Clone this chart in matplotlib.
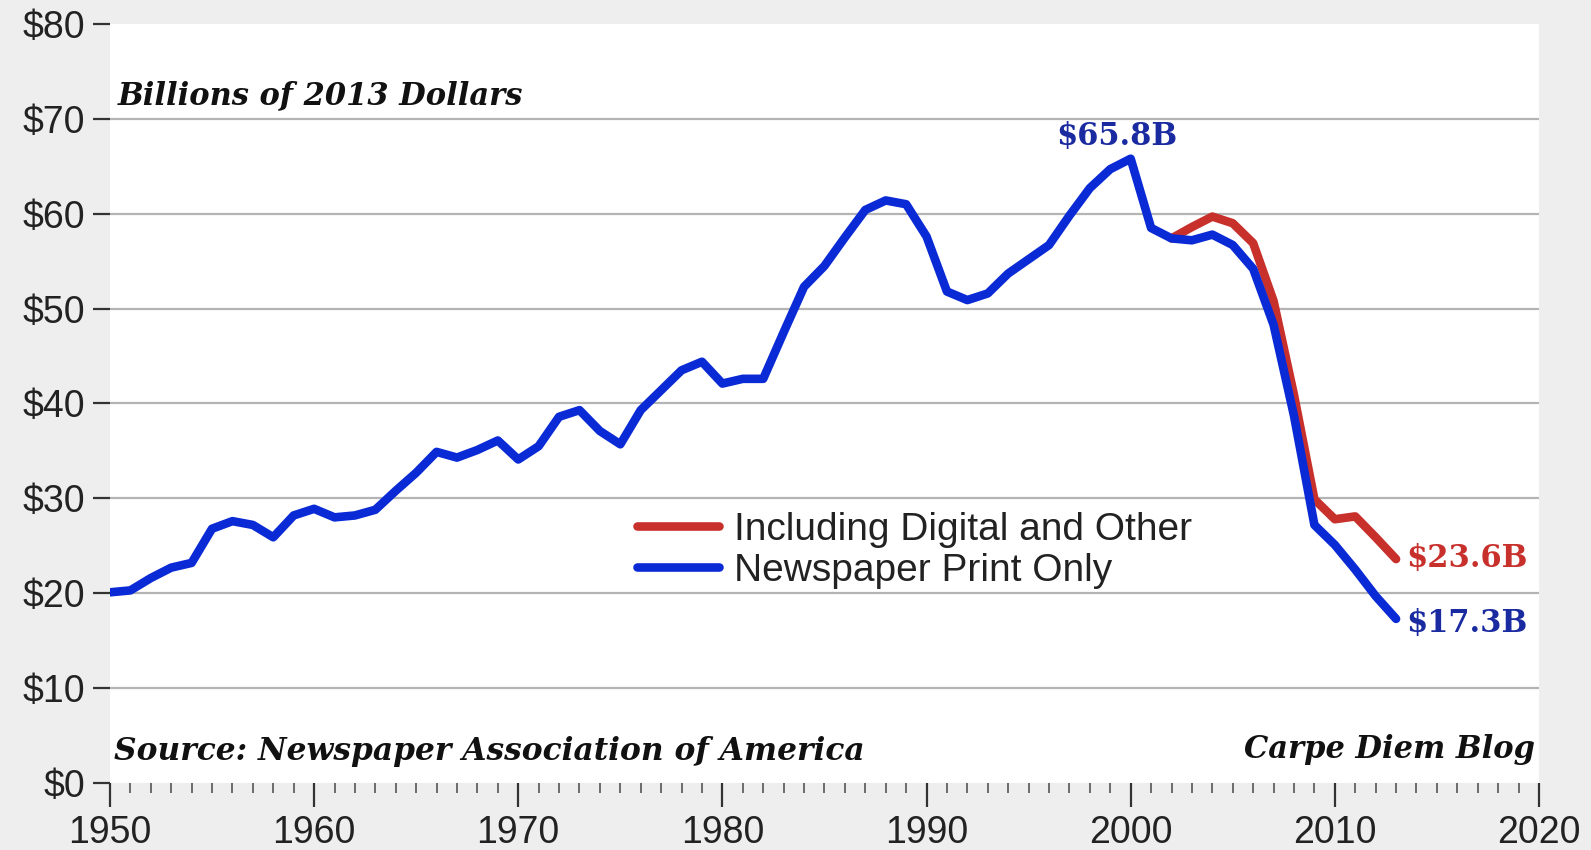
import matplotlib
matplotlib.use("Agg")
import matplotlib.pyplot as plt
from matplotlib.ticker import MultipleLocator, FuncFormatter

years_print = list(range(1950, 2014))
print_only = [20.1, 20.3, 21.6, 22.7, 23.2, 26.8, 27.6, 27.2, 25.9, 28.2,
              28.9, 28.0, 28.2, 28.8, 30.8, 32.7, 34.9, 34.3, 35.1, 36.1,
              34.1, 35.5, 38.6, 39.3, 37.1, 35.7, 39.3, 41.4, 43.5, 44.4,
              42.1, 42.6, 42.6, 47.5, 52.3, 54.5, 57.5, 60.4, 61.4, 61.0,
              57.6, 51.8, 50.9, 51.6, 53.7, 55.2, 56.7, 59.8, 62.7, 64.7,
              65.8, 58.5, 57.4, 57.2, 57.8, 56.7, 54.2, 48.3, 38.7, 27.2,
              25.1, 22.5, 19.7, 17.3]

years_total = list(range(2002, 2014))
incl_digital = [57.4, 58.6, 59.7, 59.0, 56.9, 50.8, 40.9, 29.9, 27.8, 28.1, 25.9, 23.6]

labels_series = ["Including Digital and Other", "Newspaper Print Only"]
blue = "#0a2ad6"
red = "#c8302c"

fig = plt.figure(figsize=(15.91, 8.5), dpi=100)
fig.patch.set_facecolor("#eeeeee")
ax = fig.add_axes([0.0691, 0.0788, 0.8982, 0.893])
ax.set_facecolor("white")

ax.plot(years_total, incl_digital, color=red, lw=6.2, solid_joinstyle="round",
        solid_capstyle="round", label=labels_series[0], zorder=3)
ax.plot(years_print, print_only, color=blue, lw=6.2, solid_joinstyle="round",
        solid_capstyle="round", label=labels_series[1], zorder=4)

ax.set_xlim(1950, 2020)
ax.set_ylim(0, 80)
ax.xaxis.set_major_locator(MultipleLocator(10))
ax.xaxis.set_minor_locator(MultipleLocator(1))
ax.yaxis.set_major_locator(MultipleLocator(10))
ax.yaxis.set_major_formatter(FuncFormatter(lambda v, p: f"${v:.0f}"))

for s in ax.spines.values():
    s.set_visible(False)

for yv in range(10, 80, 10):
    ax.axhline(yv, color="#b4b4b4", lw=1.6, zorder=1)

ax.tick_params(axis="x", which="major", direction="out", length=17, width=1.6,
               color="#333333", labelsize=27, labelcolor="#222222", pad=6)
ax.tick_params(axis="x", which="minor", direction="out", length=7, width=1.2,
               color="#555555")
ax.tick_params(axis="y", which="major", direction="out", length=12, width=1.6,
               color="#333333", labelsize=27, labelcolor="#222222", pad=6)
for lab in ax.get_xticklabels() + ax.get_yticklabels():
    lab.set_fontfamily("Liberation Sans")

serif = dict(family="DejaVu Serif", fontweight="bold", fontstyle="italic")
ax.text(1950.4, 72.4, "Billions of 2013 Dollars", fontsize=22, color="#111111",
        va="center", ha="left", **serif)
ax.text(1950.2, 3.3, "Source: Newspaper Association of America", fontsize=22.5,
        color="#111111", va="center", ha="left", **serif)
ax.text(2019.8, 3.5, "Carpe Diem Blog", fontsize=22, color="#111111",
        va="center", ha="right", **serif)

bold_serif = dict(family="DejaVu Serif", fontweight="bold")
ax.text(1999.3, 68.1, "$65.8B", fontsize=22, color="#1a2aa0", ha="center",
        va="center", **bold_serif)
ax.text(2013.5, 23.7, "$23.6B", fontsize=22, color=red, ha="left",
        va="center", **bold_serif)
ax.text(2013.5, 16.8, "$17.3B", fontsize=22, color="#1a2aa0", ha="left",
        va="center", **bold_serif)

h, l = ax.get_legend_handles_labels()
leg = ax.legend(h, l, loc="upper left", bbox_to_anchor=(0.369, 0.357),
                frameon=False, handlelength=2.1, handletextpad=0.4,
                labelspacing=0.12, borderaxespad=0, borderpad=0,
                prop={"family": "Liberation Sans", "size": 28})
for t in leg.get_texts():
    t.set_color("#222222")

fig.savefig("out.png", dpi=100, facecolor=fig.get_facecolor())
